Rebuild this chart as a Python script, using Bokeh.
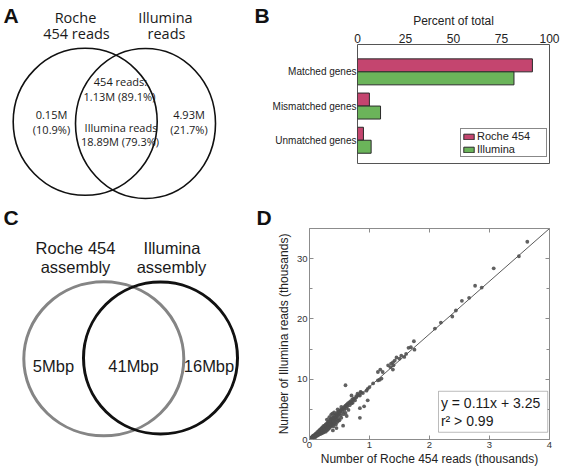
from bokeh.plotting import figure
from bokeh.layouts import row, column
from bokeh.models import (Range1d, FixedTicker, LinearAxis, Label, BoxAnnotation,
                          ColumnDataSource)
from bokeh.transform import dodge
from bokeh.core.properties import value
from bokeh.embed import file_html
from bokeh.resources import INLINE

# ---------------- data ----------------
# Panel A (read Venn)
venn_a_titles = ["Roche", "454 reads", "Illumina", "reads"]
venn_a_texts = ["454 reads:", "1.13M (89.1%)", "Illumina reads", "18.89M (79.3%)",
                "0.15M", "(10.9%)", "4.93M", "(21.7%)"]

# Panel B (gene matching)
gene_categories = ["Matched genes", "Mismatched genes", "Unmatched genes"]
roche_pct = [91.1, 6.2, 3.1]
illumina_pct = [81.5, 12.0, 7.1]
pct_ticks = [0, 25, 50, 75, 100]

# Panel C (assembly Venn)
venn_c_titles = ["Roche 454", "assembly", "Illumina", "assembly"]
venn_c_values = ["5Mbp", "41Mbp", "16Mbp"]

# Panel D (reads per gene, thousands)
roche_k = [0.01, 0.02, 0.02, 0.03, 0.03, 0.04, 0.04, 0.05, 0.05, 0.06,
           0.06, 0.07, 0.07, 0.08, 0.08, 0.09, 0.09, 0.10, 0.10, 0.10,
           0.11, 0.11, 0.12, 0.12, 0.13, 0.13, 0.14, 0.14, 0.15, 0.15,
           0.15, 0.16, 0.16, 0.17, 0.17, 0.18, 0.18, 0.19, 0.19, 0.20,
           0.20, 0.20, 0.21, 0.21, 0.22, 0.22, 0.22, 0.23, 0.23, 0.24,
           0.24, 0.25, 0.25, 0.25, 0.26, 0.26, 0.27, 0.27, 0.28, 0.28,
           0.29, 0.29, 0.30, 0.30, 0.30, 0.31, 0.31, 0.32, 0.32, 0.33,
           0.33, 0.34, 0.34, 0.35, 0.35, 0.35, 0.36, 0.36, 0.37, 0.37,
           0.38, 0.38, 0.39, 0.39, 0.40, 0.40, 0.40, 0.41, 0.42, 0.42,
           0.43, 0.43, 0.44, 0.44, 0.45, 0.45, 0.46, 0.46, 0.47, 0.48,
           0.48, 0.49, 0.50, 0.50, 0.51, 0.52, 0.52, 0.53, 0.54, 0.55,
           0.56, 0.57, 0.58, 0.58, 0.60, 0.60, 0.61, 0.62, 0.63, 0.64,
           0.65, 0.66, 0.67, 0.68, 0.70, 0.71, 0.72, 0.74, 0.76, 0.78,
           0.80, 0.82, 0.85, 0.38, 0.41, 0.33, 0.29, 0.36, 0.47, 0.53,
           0.60, 0.70, 0.84, 0.91, 0.84, 0.97, 0.39, 0.56, 0.48, 0.62, 0.45,
           0.70, 0.73, 0.78, 0.84, 0.86, 0.89, 0.95, 0.97, 1.00, 1.06,
           1.14, 1.17, 1.20, 1.14, 1.18, 1.22, 1.39, 1.31, 1.35, 1.40,
           1.36, 1.39, 1.42, 1.45, 1.50, 1.53, 1.58, 1.61, 1.65, 1.69, 1.74, 1.75,
           2.09, 2.19, 2.38, 2.44, 2.54, 2.66, 2.76, 2.87, 3.07, 3.49, 3.63]
illumina_k = [0.1, 0.2, 0.1, 0.3, 0.2, 0.4, 0.2, 0.5, 0.3, 0.4,
              0.6, 0.5, 0.7, 0.6, 0.4, 0.8, 0.5, 0.9, 0.6, 0.4,
              1.0, 0.7, 0.9, 0.6, 1.2, 0.8, 1.0, 0.7, 1.4, 1.1,
              0.8, 1.3, 0.9, 1.6, 1.1, 1.4, 0.9, 1.7, 1.2, 1.5,
              1.0, 1.9, 1.7, 1.3, 2.0, 1.5, 1.1, 1.8, 2.2, 1.6,
              1.2, 2.3, 1.9, 1.4, 2.1, 1.7, 2.5, 1.3, 2.2, 1.8,
              2.6, 1.5, 2.4, 2.0, 2.8, 1.7, 2.6, 3.0, 2.2, 2.7,
              1.9, 3.1, 2.4, 2.9, 3.3, 2.1, 2.6, 3.4, 3.0, 2.3,
              3.6, 2.8, 3.2, 2.5, 3.7, 3.0, 2.2, 3.4, 4.0, 2.7,
              3.6, 3.1, 4.2, 2.5, 3.8, 3.3, 4.4, 2.9, 4.0, 4.6,
              3.5, 4.2, 4.7, 3.2, 4.4, 4.9, 4.0, 3.6, 5.0, 4.6,
              5.2, 4.2, 5.4, 4.9, 5.6, 4.4, 5.2, 5.8, 5.5, 6.0,
              4.9, 6.1, 5.7, 6.3, 6.0, 6.6, 6.1, 6.8, 6.5, 7.2,
              7.6, 7.4, 7.9, 4.3, 4.5, 3.7, 3.3, 4.1, 5.0, 5.4,
              9.0, 7.3, 5.2, 5.5, 3.6, 6.5, 1.5, 2.3, 3.1, 3.9, 1.9,
              6.2, 6.7, 7.0, 7.3, 7.8, 7.7, 8.1, 8.4, 8.7, 9.3,
              9.8, 9.9, 10.1, 11.2, 11.6, 11.2, 11.6, 12.3, 12.0, 12.3,
              12.6, 12.8, 13.1, 13.6, 13.4, 13.9, 13.7, 14.2, 15.2, 15.3, 16.3, 14.9,
              18.4, 19.4, 20.4, 21.4, 23.0, 23.5, 25.5, 25.2, 28.4, 30.4, 32.8]
fit_x = [0, 4]
fit_y = [0, 35]
equation_lines = ["y = 0.11x + 3.25", "r\u00b2 > 0.99"]
x_ticks_d = [0, 1, 2, 3, 4]
y_ticks_d = [0, 10, 20, 30]
y_minor_d = [5, 15, 25, 35]

# ---------------- styles ----------------
ROCHE = "#c4456f"
ILLUM = "#6bb45a"
SANS = "Liberation Sans"
VENN_FONT = "Open Sans"


def blank(width, height, x0, x1, y0, y1):
    p = figure(width=width, height=height, x_range=Range1d(x0, x1),
               y_range=Range1d(y1, y0), x_axis_type=None, y_axis_type=None,
               toolbar_location=None, output_backend="svg", min_border=0,
               min_border_left=0, min_border_right=0, min_border_top=0,
               min_border_bottom=0, outline_line_color=None)
    return p


def panel_letter(p, letter, x, y):
    p.add_layout(Label(x=x, y=y, text=letter, text_font=SANS, text_font_style="bold",
                       text_font_size="21px", text_baseline="top", text_align="left",
                       text_color="#111111"))


# ---------------- Panel A (also carries the letter of panel B) ----------------
pa = blank(269, 205, 0, 269, 0, 205)
pa.ellipse(x=[84.7, 145.0], y=[121.3, 123.0], width=[144, 140], height=[147, 150],
           fill_color=None, line_color="#111111", line_width=1.6)
pa.text(x=[75, 76, 165, 166], y=[17, 33, 17, 33], text=venn_a_titles,
        text_font=value(VENN_FONT), text_font_size="14.5px", text_align="center",
        text_baseline="middle", text_color="#1a1a1a")
pa.text(x=[120, 119, 120.5, 119.5, 51, 51, 188.5, 188.5],
        y=[81, 96, 127, 141, 114, 129, 114, 129], text=venn_a_texts,
        text_font=value(VENN_FONT), text_font_size="11px", text_align="center",
        text_baseline="middle", text_color="#1a1a1a")
panel_letter(pa, "A", 3, 3)
panel_letter(pa, "B", 254, 3)

# ---------------- Panel B ----------------
pb = figure(width=294, height=205, x_range=Range1d(0, 100), y_range=Range1d(2.68, -0.8),
            x_axis_location="above", toolbar_location=None, output_backend="svg",
            min_border_left=88, min_border_right=14, min_border_top=44,
            min_border_bottom=42, outline_line_color="#555555")
pb.grid.visible = False
srcb = ColumnDataSource(dict(pos=[0, 1, 2], roche=roche_pct, illumina=illumina_pct))
pb.hbar(y=dodge("pos", -0.19), left=0, right="roche", height=0.38, source=srcb,
        fill_color=ROCHE, line_color="#2a2a2a", line_width=1, legend_label="Roche 454")
pb.hbar(y=dodge("pos", 0.19), left=0, right="illumina", height=0.38, source=srcb,
        fill_color=ILLUM, line_color="#2a2a2a", line_width=1, legend_label="Illumina")
xb = pb.xaxis[0]
xb.ticker = FixedTicker(ticks=pct_ticks)
xb.axis_label = "Percent of total"
xb.axis_label_text_font = SANS
xb.axis_label_text_font_style = "normal"
xb.axis_label_text_font_size = "12px"
xb.axis_label_text_color = "#222222"
xb.axis_label_standoff = 3
xb.major_label_standoff = 2
xb.major_label_text_font = SANS
xb.major_label_text_font_size = "12px"
xb.major_label_text_color = "#222222"
xb.major_tick_out = 0
xb.major_tick_in = 0
xb.minor_tick_out = 0
xb.axis_line_color = None
yb = pb.yaxis[0]
yb.ticker = FixedTicker(ticks=[0, 1, 2])
yb.major_label_overrides = {i: c for i, c in enumerate(gene_categories)}
yb.major_label_text_font = SANS
yb.major_label_text_font_size = "10px"
yb.major_label_text_color = "#222222"
yb.major_label_standoff = 1
yb.major_tick_out = 0
yb.major_tick_in = 0
yb.minor_tick_out = 0
yb.axis_line_color = None
lg = pb.legend[0]
lg.location = (103, 6)
lg.border_line_color = "#111111"
lg.border_line_width = 1
lg.padding = 1
lg.spacing = 1
lg.margin = 0
lg.glyph_width = 13
lg.glyph_height = 7
lg.label_standoff = 2
lg.label_width = 68
lg.label_height = 12
lg.label_text_font = SANS
lg.label_text_font_size = "11px"
lg.label_text_color = "#222222"

# ---------------- Panel C (also carries the letter of panel D) ----------------
pc = blank(273, 264, 0, 273, 205, 469)
pc.ellipse(x=[103.3], y=[358.3], width=[160], height=[154], fill_color=None,
           line_color="#858585", line_width=3)
pc.ellipse(x=[160.0], y=[357.5], width=[154], height=[152], fill_color=None,
           line_color="#111111", line_width=3)
pc.text(x=[75, 75, 171.5, 171], y=[247, 266, 247, 266], text=venn_c_titles,
        text_font=value(SANS), text_font_size="16.5px", text_align="center",
        text_baseline="middle", text_color="#1a1a1a")
pc.text(x=[53, 133, 208.5], y=[365, 365, 365], text=venn_c_values,
        text_font=value(SANS), text_font_size="16.5px", text_align="center",
        text_baseline="middle", text_color="#1a1a1a")
panel_letter(pc, "C", 3, 205)
panel_letter(pc, "D", 256, 205)

# ---------------- Panel D ----------------
pd = figure(width=290, height=264, x_range=Range1d(0, 4), y_range=Range1d(0, 35),
            toolbar_location=None, output_backend="svg",
            min_border_left=35, min_border_right=14, min_border_top=23,
            min_border_bottom=30, outline_line_color="#8c8c8c")
pd.grid.visible = False
pd.line(fit_x, fit_y, line_color="#5a5a5a", line_width=1)
pd.scatter(roche_k, illumina_k, size=3.8, fill_color="#505050", line_color=None,
           fill_alpha=0.9)
yticker = FixedTicker(ticks=y_ticks_d, minor_ticks=y_minor_d)
xticker = FixedTicker(ticks=x_ticks_d)
for ax, tk, lab in ((pd.xaxis[0], xticker, "Number of Roche 454 reads (thousands)"),
                    (pd.yaxis[0], yticker, "Number of Illumina reads (thousands)")):
    ax.ticker = tk
    ax.axis_label = lab
    ax.axis_label_text_font = SANS
    ax.axis_label_text_font_style = "normal"
    ax.axis_label_text_font_size = "12px"
    ax.axis_label_text_color = "#222222"
    ax.axis_label_standoff = 1
    ax.major_label_standoff = 2
    ax.major_label_text_font = SANS
    ax.major_label_text_font_size = "9.5px"
    ax.major_label_text_color = "#333333"
    ax.major_tick_in = 4
    ax.major_tick_out = 0
    ax.minor_tick_in = 3
    ax.minor_tick_out = 0
    ax.major_tick_line_color = "#8c8c8c"
    ax.minor_tick_line_color = "#8c8c8c"
    ax.axis_line_color = None
pd.yaxis[0].axis_label_standoff = 3
for loc, tk, ticks in (("right", yticker, y_ticks_d), ("above", xticker, x_ticks_d)):
    extra = LinearAxis(ticker=tk, major_label_overrides={t: "" for t in ticks},
                       major_label_standoff=0, major_label_text_font_size="6px",
                       major_tick_in=4, major_tick_out=0, minor_tick_in=3, minor_tick_out=0,
                       major_tick_line_color="#8c8c8c", minor_tick_line_color="#8c8c8c",
                       axis_line_color=None)
    pd.add_layout(extra, loc)
pd.add_layout(BoxAnnotation(left=2.15, right=3.97, bottom=1.2, top=8.0,
                            fill_color="white", fill_alpha=1.0, line_color="#222222",
                            line_width=1))
for txt, yy in zip(equation_lines, [6.0, 3.1]):
    pd.add_layout(Label(x=2.19, y=yy, text=txt, text_font=SANS, text_font_size="14px",
                        text_baseline="middle", text_align="left", text_color="#1a1a1a"))

layout = column(row(column(pa), column(pb)), row(column(pc), column(pd)))
open("out.html", "w").write(file_html(layout, INLINE))
